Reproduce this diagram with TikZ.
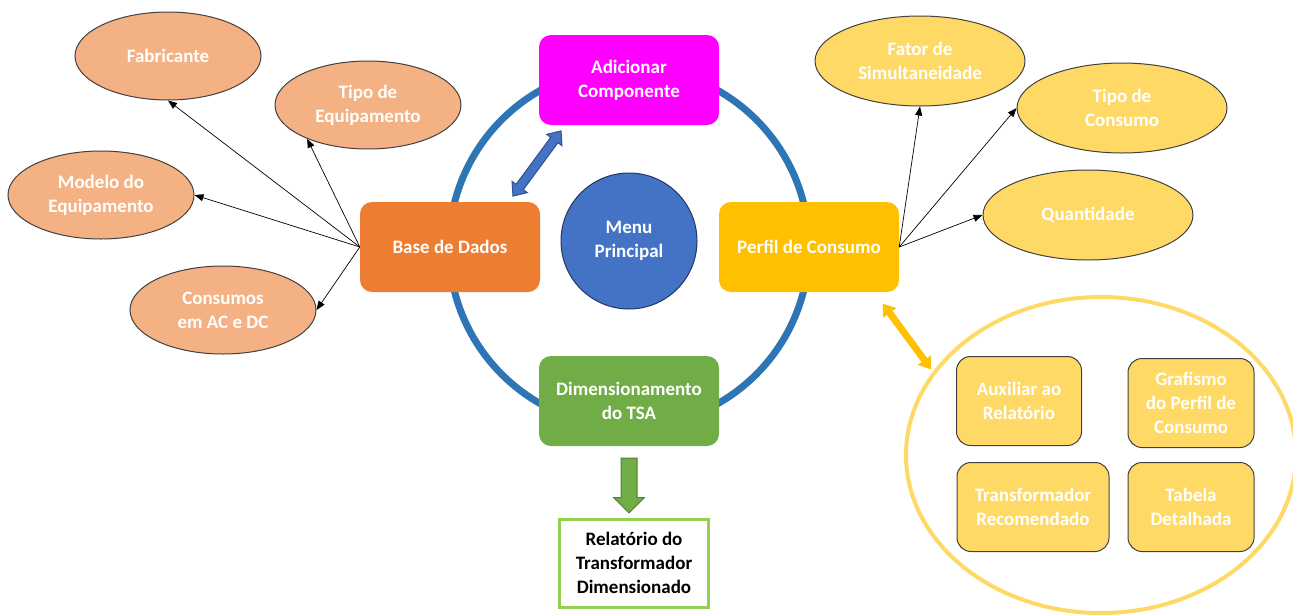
\documentclass[tikz,border=0pt]{standalone}
\usepackage{fontspec}
\setmainfont{Carlito}
\usepackage{xcolor}
\usetikzlibrary{arrows.meta,positioning,calc,shapes.geometric,shapes.arrows}

\definecolor{ringblue}{HTML}{2E75B6}
\definecolor{menublue}{HTML}{4472C4}
\definecolor{menuedge}{HTML}{1F3864}
\definecolor{arrowedge}{HTML}{2F528F}
\definecolor{basefill}{HTML}{ED7D31}
\definecolor{ovalorange}{HTML}{F4B183}
\definecolor{addfill}{HTML}{FF00FF}
\definecolor{perffill}{HTML}{FFC000}
\definecolor{ovalyellow}{HTML}{FFD966}
\definecolor{dimfill}{HTML}{70AD47}
\definecolor{dimedge}{HTML}{507E32}
\definecolor{repedge}{HTML}{92D050}
\definecolor{edgegray}{HTML}{404040}

\tikzset{
	txt/.style={font=\bfseries\fontsize{19}{24}\selectfont, text=white, align=center, inner sep=0pt},
	mainbox/.style={txt, rounded corners=12pt, minimum width=180pt, minimum height=90pt},
	oval/.style={txt, ellipse, draw=edgegray, line width=1pt, minimum width=186pt, minimum height=88pt},
	subbox/.style={txt, rounded corners=14pt, draw=edgegray, line width=1pt, fill=ovalyellow, minimum height=89pt},
	link/.style={line width=0.7pt, -{Triangle[length=9pt,width=7pt]}},
}

\begin{document}
\begin{tikzpicture}[x=1pt,y=-1pt]
	\useasboundingbox (0,0) rectangle (1293,614);
	
	% ring round the menu
	\draw[ringblue, line width=7pt] (629,247) circle[radius=180];
	
	\node[mainbox, fill=addfill] (add) at (629,80) {Adicionar\\Componente};
	\node[mainbox, fill=basefill] (base) at (450,247) {Base de Dados};
	\node[mainbox, fill=perffill] (perf) at (809,247) {Perfil de Consumo};
	\node[mainbox, fill=dimfill] (dim) at (629,401) {Dimensionamento\\do TSA};
	\node[txt, circle, fill=menublue, draw=menuedge, line width=1pt, minimum size=136pt] (menu) at (629,241) {Menu\\Principal};
	
	% data base items
	\node[oval, fill=ovalorange] (fab) at (168,56) {Fabricante};
	\node[oval, fill=ovalorange] (tipeq) at (368,105) {Tipo de\\Equipamento};
	\node[oval, fill=ovalorange] (mod) at (101,195) {Modelo do\\Equipamento};
	\node[oval, fill=ovalorange] (cons) at (223,310) {Consumos\\em AC e DC};
	
	\draw[link] (base.west) -- (fab.south);
	\draw[link] (base.west) -- (tipeq.209);
	\draw[link] (base.west) -- (mod.east);
	\draw[link] (base.west) -- (cons.east);
	
	% consumption profile items
	\node[oval, fill=ovalyellow, minimum width=210pt, minimum height=90pt] (fat) at (920,61) {Fator de\\Simultaneidade};
	\node[oval, fill=ovalyellow, minimum width=210pt, minimum height=90pt] (tipc) at (1122,108) {Tipo de\\Consumo};
	\node[oval, fill=ovalyellow, minimum width=210pt, minimum height=90pt] (qtd) at (1088,215) {Quantidade};
	
	\draw[link] (perf.east) -- (fat.south);
	\draw[link] (perf.east) -- (tipc.west);
	\draw[link] (perf.east) -- (qtd.west);
	
	% block arrows
	\node[double arrow, fill=menublue, draw=arrowedge, line width=1pt, inner xsep=0pt, inner ysep=4pt,
	      minimum height=81pt, minimum width=18pt, double arrow head extend=5pt,
	      double arrow tip angle=80, rotate=53.6] (addbase) at (537,163.5) {};
	\node[double arrow, fill=perffill, draw=perffill, inner xsep=0pt, inner ysep=3pt,
	      minimum height=81pt, minimum width=15pt, double arrow head extend=4.5pt,
	      double arrow tip angle=70, rotate=-53.6] (perfout) at (907,336.5) {};
	\node[single arrow, fill=dimfill, draw=dimedge, line width=1pt, inner xsep=0pt, inner ysep=7.5pt,
	      minimum height=55pt, minimum width=30pt, single arrow head extend=7.5pt,
	      rotate=-90] (dimout) at (629,481.5) {};
	
	\node[txt, text=black, draw=repedge, fill=white, line width=3pt,
	      minimum width=149pt, minimum height=88pt] (rep) at (634,563) {Relatório do\\Transformador\\Dimensionado};
	
	% outputs of the profile
	\draw[ovalyellow, line width=4pt] (1101,455) ellipse[x radius=195, y radius=158];
	\node[subbox, minimum width=125pt] (aux) at (1019,401) {Auxiliar ao\\Relatório};
	\node[subbox, minimum width=126pt] (graf) at (1191,403) {Grafismo\\do Perfil de\\Consumo};
	\node[subbox, minimum width=152pt] (trafo) at (1033,507) {Transformador\\Recomendado};
	\node[subbox, minimum width=126pt] (tab) at (1191,507) {Tabela\\Detalhada};
\end{tikzpicture}
\end{document}
